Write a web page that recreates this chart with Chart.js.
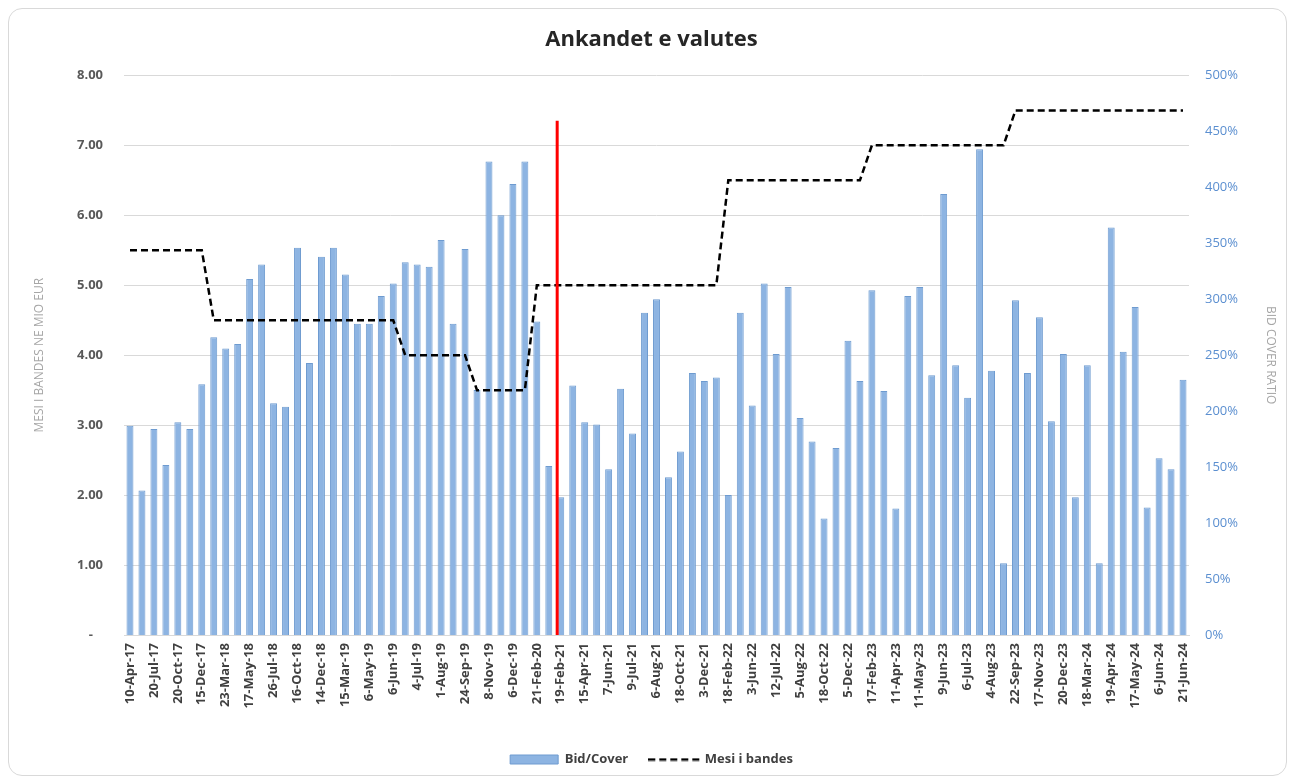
<!DOCTYPE html>
<html>
<head>
<meta charset="utf-8">
<script src="https://cdn.jsdelivr.net/npm/chart.js@4.4.1/dist/chart.umd.min.js"></script>
<style>
  html, body { margin: 0; padding: 0; background: #ffffff; }
  #frame {
    position: absolute; left: 8px; top: 8px; width: 1277px; height: 766px;
    border: 1px solid #d9d9d9; border-radius: 14px;
  }
  #chart { position: absolute; left: 0; top: 0; }
</style>
</head>
<body>
<div id="frame"></div>
<canvas id="chart" width="1295" height="781"></canvas>
<script>
// tick labels shown under every second auction
const tickLabels = [
  "10-Apr-17", "20-Jul-17", "20-Oct-17", "15-Dec-17", "23-Mar-18", "17-May-18",
  "26-Jul-18", "16-Oct-18", "14-Dec-18", "15-Mar-19", "6-May-19", "6-Jun-19",
  "4-Jul-19", "1-Aug-19", "24-Sep-19", "8-Nov-19", "6-Dec-19", "21-Feb-20",
  "19-Feb-21", "15-Apr-21", "7-Jun-21", "9-Jul-21", "6-Aug-21", "18-Oct-21",
  "3-Dec-21", "18-Feb-22", "3-Jun-22", "12-Jul-22", "5-Aug-22", "18-Oct-22",
  "5-Dec-22", "17-Feb-23", "11-Apr-23", "11-May-23", "9-Jun-23", "6-Jul-23",
  "4-Aug-23", "22-Sep-23", "17-Nov-23", "20-Dec-23", "18-Mar-24", "19-Apr-24",
  "17-May-24", "6-Jun-24", "21-Jun-24"
];

// Bid/Cover ratio in %
const bidCover = [
  187, 129, 184, 152, 190, 184, 224, 266, 256, 260,
  318, 331, 207, 204, 346, 243, 338, 346, 322, 278,
  278, 303, 314, 333, 331, 329, 353, 278, 345, 219,
  423, 375, 403, 423, 280, 151, 123, 223, 190, 188,
  148, 220, 180, 288, 300, 141, 164, 234, 227, 230,
  125, 288, 205, 314, 251, 311, 194, 173, 104, 167,
  263, 227, 308, 218, 113, 303, 311, 232, 394, 241,
  212, 434, 236, 64, 299, 234, 284, 191, 251, 123,
  241, 64, 364, 253, 293, 114, 158, 148, 228
];

// Mesi i bandes, mio EUR
const mesiBandes = [
  5.5, 5.5, 5.5, 5.5, 5.5, 5.5, 5.5, 4.5, 4.5, 4.5,
  4.5, 4.5, 4.5, 4.5, 4.5, 4.5, 4.5, 4.5, 4.5, 4.5,
  4.5, 4.5, 4.5, 4.0, 4.0, 4.0, 4.0, 4.0, 4.0, 3.5,
  3.5, 3.5, 3.5, 3.5, 5.0, 5.0, 5.0, 5.0, 5.0, 5.0,
  5.0, 5.0, 5.0, 5.0, 5.0, 5.0, 5.0, 5.0, 5.0, 5.0,
  6.5, 6.5, 6.5, 6.5, 6.5, 6.5, 6.5, 6.5, 6.5, 6.5,
  6.5, 6.5, 7.0, 7.0, 7.0, 7.0, 7.0, 7.0, 7.0, 7.0,
  7.0, 7.0, 7.0, 7.0, 7.5, 7.5, 7.5, 7.5, 7.5, 7.5,
  7.5, 7.5, 7.5, 7.5, 7.5, 7.5, 7.5, 7.5, 7.5
];

// red marker line: position on the category axis, top on the left axis
const markerAt = 35.7;
const markerTop = 7.35;

const categories = bidCover.map((v, i) => (i % 2 === 0 ? tickLabels[i / 2] : ""));

const FONT = "'Open Sans', 'DejaVu Sans', sans-serif";

// dashed sample for the legend
const dashSample = document.createElement("canvas");
dashSample.width = 52;
dashSample.height = 4;
(function () {
  const c = dashSample.getContext("2d");
  c.strokeStyle = "#000000";
  c.lineWidth = 2.5;
  c.setLineDash([7, 4]);
  c.beginPath();
  c.moveTo(0, 2);
  c.lineTo(52, 2);
  c.stroke();
})();

const markerLine = {
  id: "markerLine",
  afterDatasetsDraw(chart) {
    const x = chart.scales.x.getPixelForValue(markerAt);
    const yTop = chart.scales.y.getPixelForValue(markerTop);
    const yBottom = chart.scales.y.getPixelForValue(0);
    const ctx = chart.ctx;
    ctx.save();
    ctx.strokeStyle = "#ff0000";
    ctx.lineWidth = 3;
    ctx.beginPath();
    ctx.moveTo(x, yTop);
    ctx.lineTo(x, yBottom);
    ctx.stroke();
    ctx.restore();
  }
};

new Chart(document.getElementById("chart"), {
  type: "bar",
  data: {
    labels: categories,
    datasets: [
      {
        type: "line",
        label: "Mesi i bandes",
        data: mesiBandes,
        yAxisID: "y",
        borderColor: "#000000",
        backgroundColor: "#000000",
        borderWidth: 2.5,
        borderDash: [7, 4],
        pointRadius: 0,
        pointStyle: dashSample,
        tension: 0,
        fill: false,
        order: 0
      },
      {
        label: "Bid/Cover",
        data: bidCover,
        yAxisID: "y1",
        backgroundColor: "#8db4e2",
        borderColor: "#6e9bd0",
        borderWidth: 1,
        pointStyle: "rect",
        barPercentage: 0.58,
        categoryPercentage: 1,
        order: 1
      }
    ]
  },
  options: {
    responsive: false,
    animation: false,
    layout: { padding: { left: 18, right: 10, top: 0, bottom: 5 } },
    plugins: {
      title: {
        display: true,
        text: "Ankandet e valutes",
        color: "#262626",
        font: { family: FONT, size: 22, weight: "bold" },
        padding: { top: 27, bottom: 22 }
      },
      legend: {
        position: "bottom",
        reverse: true,
        labels: {
          usePointStyle: true,
          pointStyleWidth: 48,
          boxHeight: 9,
          padding: 22,
          color: "#404040",
          font: { family: FONT, size: 13, weight: "bold" }
        }
      },
      tooltip: { enabled: false }
    },
    scales: {
      x: {
        offset: true,
        grid: { display: false, drawTicks: false },
        border: { display: true, color: "#d9d9d9" },
        ticks: {
          autoSkip: false,
          maxRotation: 90,
          minRotation: 90,
          padding: 8,
          color: "#404040",
          font: { family: FONT, size: 13, weight: "bold" }
        },
        afterFit(scale) { scale.height = 96; }
      },
      y: {
        position: "left",
        min: 0,
        max: 8,
        grid: { color: "#d9d9d9", drawTicks: false },
        border: { display: false },
        ticks: {
          stepSize: 1,
          padding: 21,
          color: "#595959",
          font: { family: FONT, size: 13, weight: "bold" },
          callback: (v) => (v === 0 ? "-   " : v.toFixed(2))
        },
        title: {
          display: true,
          text: "MESI I BANDES NE MIO EUR",
          color: "#a6a6a6",
          font: { family: FONT, size: 12 },
          padding: { top: 14, bottom: 0 }
        },
        afterFit(scale) { scale.width = 106; }
      },
      y1: {
        position: "right",
        min: 0,
        max: 500,
        grid: { display: false, drawTicks: false },
        border: { display: false },
        ticks: {
          stepSize: 50,
          padding: 16,
          color: "#5b8fd0",
          font: { family: FONT, size: 13 },
          callback: (v) => v + "%"
        },
        title: {
          display: true,
          text: "BID COVER RATIO",
          color: "#a6a6a6",
          font: { family: FONT, size: 12 },
          padding: { top: 7, bottom: 0 }
        },
        afterFit(scale) { scale.width = 96; }
      }
    }
  },
  plugins: [markerLine]
});
</script>
</body>
</html>
